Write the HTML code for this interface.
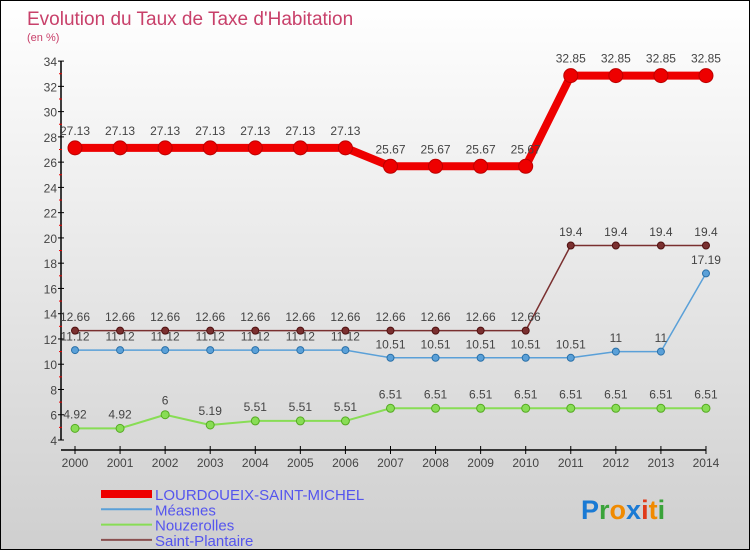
<!DOCTYPE html>
<html><head><meta charset="utf-8"><style>
body{margin:0}
#c{position:relative;width:748px;height:548px;border:1px solid #000;background:linear-gradient(#fff,#cfcfcf);overflow:hidden;font-family:"Liberation Sans",sans-serif}
</style></head><body>
<div id="c">
<svg id="s" width="748" height="548">
<text x="26" y="24" font-size="19" fill="#c8406a">Evolution du Taux de Taxe d'Habitation</text>
<text x="26" y="40" font-size="11" fill="#c8406a">(en %)</text>
<g id="g"></g>
<text x="580" y="518" font-size="27" font-weight="bold"><tspan fill="#1a7ad4">P</tspan><tspan fill="#3aa33a">r</tspan><tspan fill="#f08a00">o</tspan><tspan fill="#1a7ad4">x</tspan><tspan fill="#e03a1a">i</tspan><tspan fill="#f08a00">t</tspan><tspan fill="#3aa33a">i</tspan></text>
</svg></div>
<script>
const years=[2000,2001,2002,2003,2004,2005,2006,2007,2008,2009,2010,2011,2012,2013,2014];
const lourdoueix=[27.13,27.13,27.13,27.13,27.13,27.13,27.13,25.67,25.67,25.67,25.67,32.85,32.85,32.85,32.85];
const measnes=[11.12,11.12,11.12,11.12,11.12,11.12,11.12,10.51,10.51,10.51,10.51,10.51,11,11,17.19];
const nouzerolles=[4.92,4.92,6,5.19,5.51,5.51,5.51,6.51,6.51,6.51,6.51,6.51,6.51,6.51,6.51];
const saintPlantaire=[12.66,12.66,12.66,12.66,12.66,12.66,12.66,12.66,12.66,12.66,12.66,19.4,19.4,19.4,19.4];
const yTicks=[4,6,8,10,12,14,16,18,20,22,24,26,28,30,32,34];
const NS="http://www.w3.org/2000/svg";
const g=document.getElementById('g');
const xs=i=>74+i*45.07;
const ys=v=>439-(v-4)*12.63;
function mk(t,a,p){const e=document.createElementNS(NS,t);for(const k in a)e.setAttribute(k,a[k]);(p||g).appendChild(e);return e;}
let e;
e=mk('line',{x1:60,y1:ys(34),x2:60,y2:ys(4),stroke:'#000','stroke-width':1.5});


e=mk('line',{x1:60,y1:449,x2:xs(14),y2:449,stroke:'#000','stroke-width':1.5});


yTicks.forEach(v=>{
 mk('line',{x1:57,y1:ys(v),x2:63,y2:ys(v),stroke:'#000'});
 if(v<34) mk('line',{x1:58,y1:ys(v+1),x2:61,y2:ys(v+1),stroke:'#e00'});
 e=mk('text',{x:56,y:ys(v)+5,'font-size':12,fill:'#444','text-anchor':'end'});e.textContent=v;
 
 
});
years.forEach((y,i)=>{
 mk('line',{x1:xs(i),y1:445,x2:xs(i),y2:453,stroke:'#000'});
 e=mk('text',{x:xs(i),y:466,'font-size':12,fill:'#444','text-anchor':'middle'});e.textContent=y;
 
 
});
function series(vals,color,w,r,name,dark){
 const pts=vals.map((v,i)=>xs(i)+','+ys(v)).join(' ');
 e=mk('polyline',{points:pts,fill:'none',stroke:color,'stroke-width':w,'stroke-linejoin':'round'});
 
 
 vals.forEach((v,i)=>{
  e=mk('circle',{cx:xs(i),cy:ys(v),r:r,fill:color,stroke:dark,'stroke-width':1});
  
  
  e=mk('text',{x:xs(i),y:ys(v)-(r+6),'font-size':12,fill:'#444','text-anchor':'middle'});e.textContent=v;
  
  
 });
}
series(nouzerolles,'#88dd55',2,4,'nouzerolles','#55aa22');
series(measnes,'#5aa0d8',1.5,3.5,'measnes','#2a70a8');
series(saintPlantaire,'#7a3030',1.5,3.5,'saint-plantaire','#501010');
series(lourdoueix,'#ee0000',8,7,'lourdoueix','#bb0000');
const legend=[['LOURDOUEIX-SAINT-MICHEL','#ee0000',8],['Méasnes','#5aa0d8',2],['Nouzerolles','#88dd55',2],['Saint-Plantaire','#8a5050',2]];
legend.forEach((l,i)=>{
 const y=493+i*15.3;
 e=mk('line',{x1:100,y1:y,x2:151,y2:y,stroke:l[1],'stroke-width':l[2]});
 
 
 e=mk('text',{x:154,y:y+6,'font-size':15,fill:'#5555ee'});e.textContent=l[0];
 
 
});
</script>
</body></html>
